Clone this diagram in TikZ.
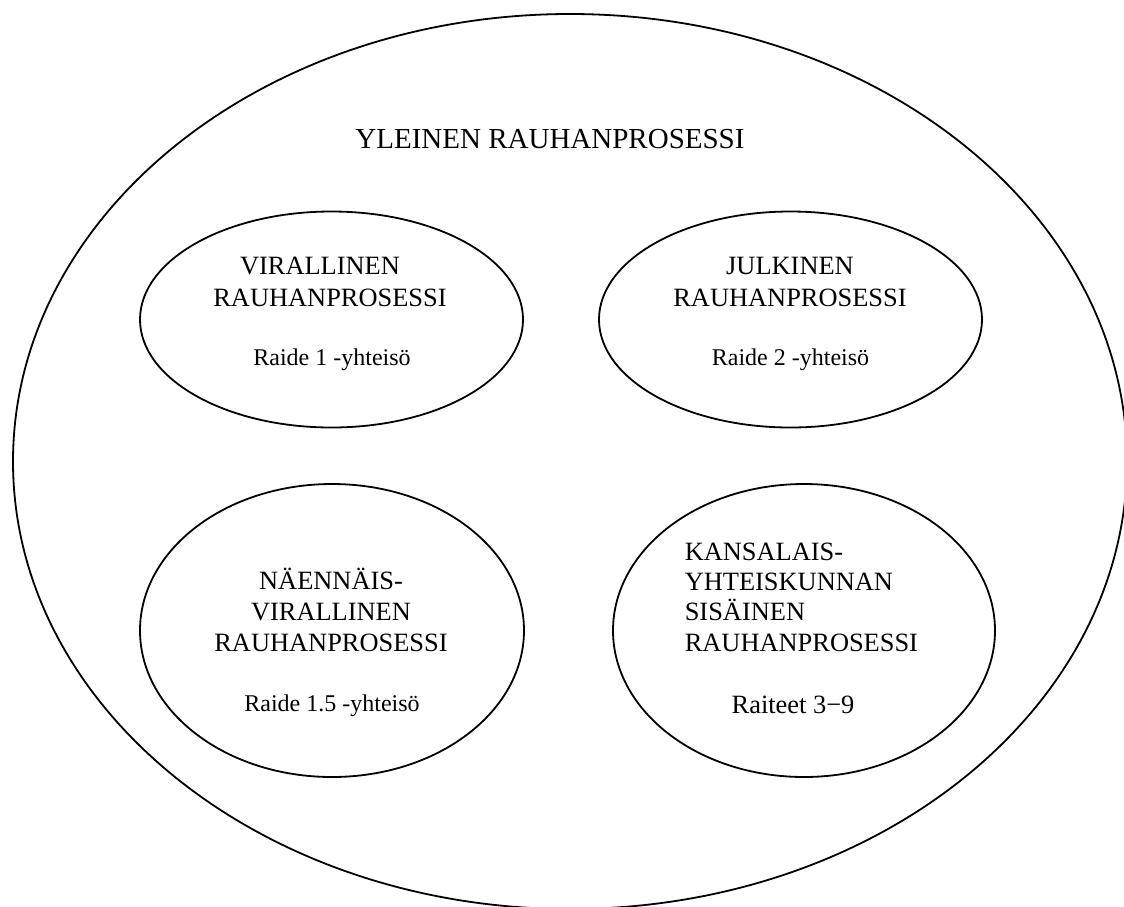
\documentclass[tikz,border=0pt]{standalone}
\usepackage{fontspec}
\setmainfont{Liberation Serif}
\usetikzlibrary{shapes.geometric}
\begin{document}
\begin{tikzpicture}[x = 1pt,y = -1pt,
        every node/.style = {inner sep = 0pt,anchor = base},
        kupla/.style = {draw = black,ellipse,line width = 1.8pt,anchor = center},
        otsikko/.style = {font = \fontsize{26.4}{31.3}\selectfont,align = center},
        raide/.style = {font = \fontsize{24}{29}\selectfont}]
        \useasboundingbox (0,0) rectangle (1124,906);
        \node [kupla,minimum width = 1114pt,minimum height = 895pt] (yleinen) at (570,461.5) {};
        \node [font = \fontsize{29}{34}\selectfont] (yleinenteksti) at (550,148.6) {YLEINEN RAUHANPROSESSI};
        % ylarivi
        \node [kupla,minimum width = 383pt,minimum height = 216pt] (virallinen) at (331.5,319.5) {};
        \node [kupla,minimum width = 383pt,minimum height = 216pt] (julkinen) at (790.5,319.5) {};
        \node [otsikko] (virallinenteksti) at (330,306) {VIRALLINEN\hspace*{20pt}\\RAUHANPROSESSI};
        \node [raide] (raide1) at (332,365) {Raide 1 -yhteisö};
        \node [otsikko] (julkinenteksti) at (790,306) {JULKINEN\\RAUHANPROSESSI};
        \node [raide] (raide2) at (790.5,365) {Raide 2 -yhteisö};
        % alarivi
        \node [kupla,minimum width = 384pt,minimum height = 293pt] (naennais) at (332,630.5) {};
        \node [kupla,minimum width = 382pt,minimum height = 293pt] (kansalais) at (804,630.5) {};
        \node [otsikko] (naennaisteksti) at (331,651.7) {NÄENNÄIS-\\VIRALLINEN\\RAUHANPROSESSI};
        \node [raide] (raide15) at (332,711.5) {Raide 1.5 -yhteisö};
        \node [otsikko,align = left,anchor = base west,font = \fontsize{26.4}{30.3}\selectfont] (kansalaisteksti) at (684.6,651) {KANSALAIS-\\YHTEISKUNNAN\\SISÄINEN\\RAUHANPROSESSI};
        \node [font = \fontsize{26.4}{31}\selectfont] (raiteet) at (793,713.6) {Raiteet 3−9};
    \end{tikzpicture}
\end{document}
